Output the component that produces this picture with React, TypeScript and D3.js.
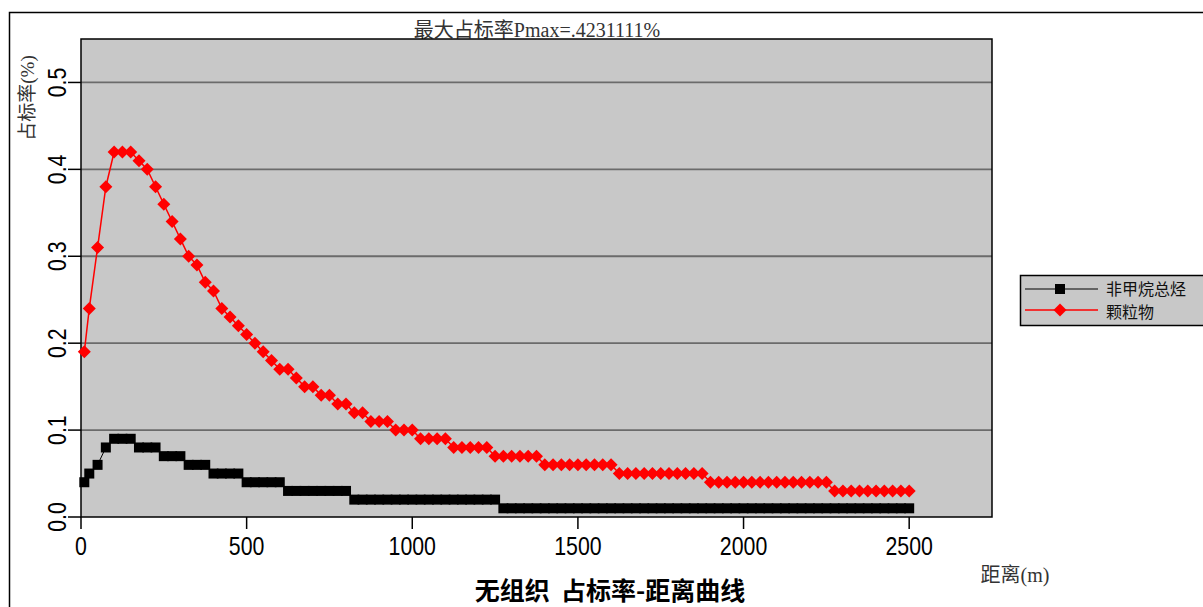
// Occupancy-rate vs distance curve (two pollutants), drawn with d3 scales as JSX.
import * as d3 from "d3";

const distances = [
  10, 25, 50, 75, 100, 125, 150, 175, 200, 225, 250, 275, 300, 325, 350, 375, 400, 425, 450, 475,
  500, 525, 550, 575, 600, 625, 650, 675, 700, 725, 750, 775, 800, 825, 850, 875, 900, 925, 950, 975,
  1000, 1025, 1050, 1075, 1100, 1125, 1150, 1175, 1200, 1225, 1250, 1275, 1300, 1325, 1350, 1375, 1400, 1425, 1450, 1475,
  1500, 1525, 1550, 1575, 1600, 1625, 1650, 1675, 1700, 1725, 1750, 1775, 1800, 1825, 1850, 1875, 1900, 1925, 1950, 1975,
  2000, 2025, 2050, 2075, 2100, 2125, 2150, 2175, 2200, 2225, 2250, 2275, 2300, 2325, 2350, 2375, 2400, 2425, 2450, 2475,
  2500,
];

// 非甲烷总烃
const nmhc = [
  0.04, 0.05, 0.06, 0.08, 0.09, 0.09, 0.09, 0.08, 0.08, 0.08, 0.07, 0.07, 0.07, 0.06, 0.06, 0.06, 0.05, 0.05, 0.05, 0.05,
  0.04, 0.04, 0.04, 0.04, 0.04, 0.03, 0.03, 0.03, 0.03, 0.03, 0.03, 0.03, 0.03, 0.02, 0.02, 0.02, 0.02, 0.02, 0.02, 0.02,
  0.02, 0.02, 0.02, 0.02, 0.02, 0.02, 0.02, 0.02, 0.02, 0.02, 0.02, 0.01, 0.01, 0.01, 0.01, 0.01, 0.01, 0.01, 0.01, 0.01,
  0.01, 0.01, 0.01, 0.01, 0.01, 0.01, 0.01, 0.01, 0.01, 0.01, 0.01, 0.01, 0.01, 0.01, 0.01, 0.01, 0.01, 0.01, 0.01, 0.01,
  0.01, 0.01, 0.01, 0.01, 0.01, 0.01, 0.01, 0.01, 0.01, 0.01, 0.01, 0.01, 0.01, 0.01, 0.01, 0.01, 0.01, 0.01, 0.01, 0.01,
  0.01,
];

// 颗粒物
const pm = [
  0.19, 0.24, 0.31, 0.38, 0.42, 0.42, 0.42, 0.41, 0.40, 0.38, 0.36, 0.34, 0.32, 0.30, 0.29, 0.27, 0.26, 0.24, 0.23, 0.22,
  0.21, 0.20, 0.19, 0.18, 0.17, 0.17, 0.16, 0.15, 0.15, 0.14, 0.14, 0.13, 0.13, 0.12, 0.12, 0.11, 0.11, 0.11, 0.10, 0.10,
  0.10, 0.09, 0.09, 0.09, 0.09, 0.08, 0.08, 0.08, 0.08, 0.08, 0.07, 0.07, 0.07, 0.07, 0.07, 0.07, 0.06, 0.06, 0.06, 0.06,
  0.06, 0.06, 0.06, 0.06, 0.06, 0.05, 0.05, 0.05, 0.05, 0.05, 0.05, 0.05, 0.05, 0.05, 0.05, 0.05, 0.04, 0.04, 0.04, 0.04,
  0.04, 0.04, 0.04, 0.04, 0.04, 0.04, 0.04, 0.04, 0.04, 0.04, 0.04, 0.03, 0.03, 0.03, 0.03, 0.03, 0.03, 0.03, 0.03, 0.03,
  0.03,
];

const xTicks = [0, 500, 1000, 1500, 2000, 2500];
const yTicks = [0, 0.1, 0.2, 0.3, 0.4, 0.5];
const seriesNames = ["非甲烷总烃", "颗粒物"];

const W = 1203;
const H = 607;
const plot = { left: 81, top: 39, right: 992, bottom: 517 };

const numFont = "'Liberation Sans', Arial, sans-serif";
const serifFont = "'Liberation Serif', 'Noto Sans CJK SC', serif";
const cjkFont = "'Noto Sans CJK SC', sans-serif";

export default function App() {
  const x = d3.scaleLinear().domain([0, 2750]).range([plot.left, plot.right]);
  const y = d3.scaleLinear().domain([0, 0.55]).range([plot.bottom, plot.top]);

  const line = d3
    .line<number>()
    .x((_, i) => x(distances[i]))
    .y((d) => y(d));

  const diamond = (r: number) => `M0,${-r}L${r},0L0,${r}L${-r},0Z`;
  const sq = 5;
  const dr = 6.5;

  return (
    <svg width={W} height={H} style={{ position: "absolute", left: 0, top: 0, background: "#fff" }}>
      {/* outer frame */}
      <rect x={9.5} y={12.5} width={1220} height={620} fill="none" stroke="#000" strokeWidth={1.5} />

      {/* title */}
      <text x={537} y={37} textAnchor="middle" fontFamily={serifFont} fontSize={20} fill="#333">
        最大占标率Pmax=.4231111%
      </text>

      {/* plot background */}
      <rect
        x={plot.left}
        y={plot.top}
        width={plot.right - plot.left}
        height={plot.bottom - plot.top}
        fill="#c8c8c8"
      />

      {/* gridlines */}
      {yTicks.slice(1).map((t) => (
        <line key={t} x1={plot.left} x2={plot.right} y1={y(t)} y2={y(t)} stroke="#6b6b6b" strokeWidth={1.8} />
      ))}

      {/* y ticks + labels (condensed by scaling) */}
      {yTicks.map((t) => (
        <g key={t}>
          <line x1={plot.left - 13} x2={plot.left} y1={y(t)} y2={y(t)} stroke="#000" strokeWidth={1.5} />
          <text
            transform={`translate(57,${y(t)}) rotate(-90) scale(0.82,1)`}
            textAnchor="middle"
            dominantBaseline="central"
            fontFamily={numFont}
            fontSize={26}
            fill="#000"
          >
            {d3.format(".1f")(t)}
          </text>
        </g>
      ))}

      {/* x ticks + labels */}
      {xTicks.map((t) => (
        <g key={t}>
          <line x1={x(t)} x2={x(t)} y1={plot.bottom} y2={plot.bottom + 12} stroke="#000" strokeWidth={1.5} />
          <text
            transform={`translate(${x(t)},555) scale(0.82,1)`}
            textAnchor="middle"
            fontFamily={numFont}
            fontSize={26}
            fill="#000"
          >
            {t}
          </text>
        </g>
      ))}

      {/* plot frame */}
      <rect
        x={plot.left}
        y={plot.top}
        width={plot.right - plot.left}
        height={plot.bottom - plot.top}
        fill="none"
        stroke="#000"
        strokeWidth={1.5}
      />

      {/* axis titles */}
      <text
        transform="translate(34,98) rotate(-90)"
        textAnchor="middle"
        fontFamily={serifFont}
        fontSize={19}
        fill="#333"
      >
        占标率(%)
      </text>
      <text x={1015} y={582} textAnchor="middle" fontFamily={serifFont} fontSize={20} fill="#333">
        距离(m)
      </text>
      <text x={610} y={600} textAnchor="middle" fontFamily={cjkFont} fontSize={25} fontWeight="bold" fill="#000">
        {"无组织\u00a0\u00a0占标率-距离曲线"}
      </text>

      {/* series: 非甲烷总烃 */}
      <path d={line(nmhc) ?? ""} fill="none" stroke="#000" strokeWidth={1} />
      {nmhc.map((v, i) => (
        <rect key={`n${i}`} x={x(distances[i]) - sq} y={y(v) - sq} width={sq * 2} height={sq * 2} fill="#000" />
      ))}

      {/* series: 颗粒物 */}
      <path d={line(pm) ?? ""} fill="none" stroke="#ff0000" strokeWidth={1.5} />
      {pm.map((v, i) => (
        <path key={`p${i}`} d={diamond(dr)} transform={`translate(${x(distances[i])},${y(v)})`} fill="#ff0000" />
      ))}

      {/* legend */}
      <rect x={1020.5} y={275.5} width={200} height={50} fill="#c8c8c8" stroke="#000" strokeWidth={1.5} />
      <line x1={1025} x2={1098} y1={289} y2={289} stroke="#000" strokeWidth={1.2} />
      <rect x={1060 - sq} y={289 - sq} width={sq * 2} height={sq * 2} fill="#000" />
      <line x1={1025} x2={1098} y1={310} y2={310} stroke="#ff0000" strokeWidth={1.5} />
      <path d={diamond(dr)} transform="translate(1060,310)" fill="#ff0000" />
      <text x={1106} y={294.5} fontFamily={cjkFont} fontSize={16} fill="#111">
        {seriesNames[0]}
      </text>
      <text x={1106} y={317.5} fontFamily={cjkFont} fontSize={16} fill="#111">
        {seriesNames[1]}
      </text>
    </svg>
  );
}
